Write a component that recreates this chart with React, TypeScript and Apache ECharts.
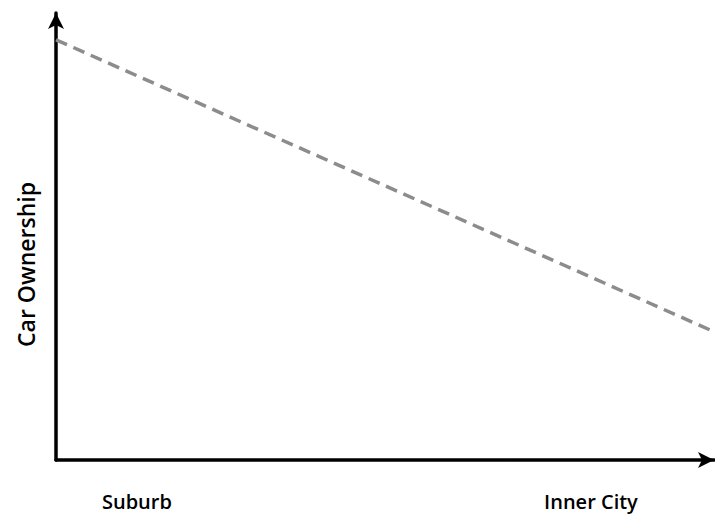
import React, { useEffect, useRef } from "react";
import * as echarts from "echarts";

const categories = ["Suburb", "Inner City"];
const categoryPositions = [12.3, 81.3];
const lineX = [0, 100];
const lineY = [94, 28.7];
const yTitle = "Car Ownership";

export default function App() {
  const ref = useRef<HTMLDivElement>(null);
  useEffect(() => {
    if (!ref.current) return;
    const chart = echarts.init(ref.current, null, { renderer: "svg" });
    const font = "'Open Sans', 'Noto Sans', sans-serif";
    chart.setOption({
      animation: false,
      backgroundColor: "#ffffff",
      grid: { left: 56, right: 1, top: 13, bottom: 56, containLabel: false },
      xAxis: {
        type: "value",
        min: 0,
        max: 100,
        splitLine: { show: false },
        axisTick: { show: false },
        axisLine: {
          show: true,
          lineStyle: { color: "#000", width: 3.5 },
          symbol: ["none", "arrow"],
          symbolSize: [12, 16],
        },
        axisLabel: {
          show: true,
          customValues: categoryPositions,
          margin: 31,
          color: "#000",
          fontFamily: font,
          fontSize: 20,
          fontWeight: 600,
          formatter: (v: number) => {
            const i = categoryPositions.findIndex((p) => Math.abs(p - v) < 1e-6);
            return i >= 0 ? categories[i] : "";
          },
        },
      },
      yAxis: {
        type: "value",
        min: 0,
        max: 100,
        splitLine: { show: false },
        axisTick: { show: false },
        axisLabel: { show: false },
        axisLine: {
          show: true,
          lineStyle: { color: "#000", width: 3.5 },
          symbol: ["none", "arrow"],
          symbolSize: [12, 16],
        },
        name: yTitle,
        nameLocation: "middle",
        nameGap: 19,
        nameRotate: 90,
        nameTextStyle: {
          color: "#000",
          fontFamily: font,
          fontSize: 23,
          fontWeight: 600,
          padding: [0, 56, 0, 0],
        },
      },
      series: [
        {
          type: "line",
          data: lineX.map((x, i) => [x, lineY[i]]),
          showSymbol: false,
          symbol: "none",
          clip: false,
          lineStyle: { color: "#8c8c8c", width: 3.5, type: [12, 7] },
        },
      ],
    });
    return () => chart.dispose();
  }, []);
  return (
    <div
      ref={ref}
      style={{ position: "absolute", left: 0, top: 0, width: 715, height: 516 }}
    />
  );
}
